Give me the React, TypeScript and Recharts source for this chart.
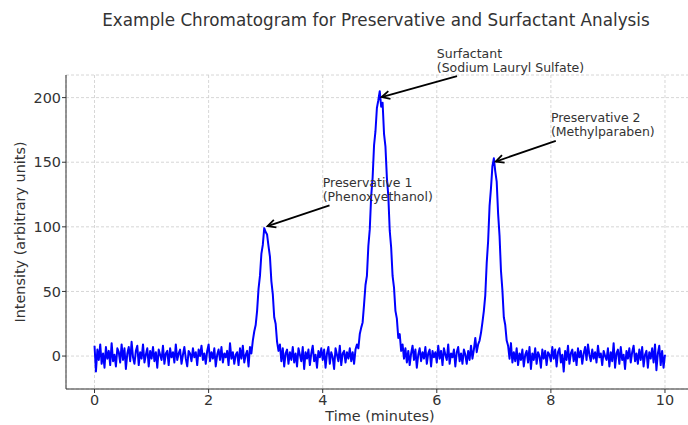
import { LineChart, Line, XAxis, YAxis, CartesianGrid, ReferenceLine, Label } from 'recharts'

// detector signal, one reading every 0.025 min from 0 to 10 min
const TIME_STEP = 0.025
const intensity = [
  8, -12, 5, -3, 9, -6, 2, -9, 7, -2, 4, -7, 10, -4, 1, -8, 6, 3, -5, 9,
  -3, 6, -10, 2, 7, -4, 11, -1, -6, 4, 8, -7, 3, -2, 9, -5, 1, 6, -8, 4,
  -2, 7, -4, 3, -9, 5, 1, -3, 8, -6, 2, 4, -7, 6, -1, 3, -5, 9, -3, 2,
  5, -6, 1, 7, -2, -8, 4, 2, -4, 6, -1, 3, -7, 5, 0, 8, -3, 2, -6, 4,
  9, -4, 3, -2, 6, -8, 1, 5, -3, 7, -5, 2, -1, 4, -7, 10, -2, 3, -6, 1,
  3, -7, 6, -2, 8, -5, 1, 4, -8, 7, 2, 12, 19, 24, 35, 52, 62, 79, 86, 99,
  96, 94, 85, 77, 58, 48, 30, 25, 11, 4, 9, -4, 6, -8, 2, 5, -6, 3, -3, 7,
  -5, 2, -8, 6, 1, -4, 7, -10, 3, -2, 5, -7, 2, 8, -4, 1, -9, 4, -1, 6,
  -3, 5, -9, 2, 7, -6, 3, -1, -10, 6, 1, -4, 8, -7, 2, 4, -5, 3, -2, 6,
  -4, 3, -6, 5, 9, 6, 17, 22, 26, 40, 55, 62, 85, 98, 124, 138, 163, 174, 192, 198,
  205, 193, 196, 172, 162, 138, 124, 97, 84, 62, 53, 35, 29, 14, 17, 4, 9, -2, 6, -5,
  4, -7, 2, 8, -3, 5, -9, 1, 6, -4, 3, -2, 7, -6, 2, 5, -8, 4, -1, 3,
  -5, 8, -2, 4, -7, 6, 1, -3, 9, -6, 2, -1, 5, -8, 3, 7, -4, 2, -6, 5,
  1, -6, 4, -3, 8, -2, 5, 14, 3, 9, 12, 18, 26, 35, 47, 72, 89, 116, 130, 147,
  153, 143, 135, 110, 93, 66, 51, 30, 24, 12, 8, -2, 10, -5, 3, -4, 6, -7, 2, -3,
  5, -8, 1, 4, -5, 7, -10, 2, -3, 6, -6, 3, 0, -9, 5, -2, 4, -7, 3, 1,
  -4, 7, -2, 5, -8, 3, 6, -5, 1, -12, 4, -3, 8, -6, 2, 5, -4, 3, -7, 6,
  -1, 4, -6, 2, 7, -3, 9, 1, -4, 5, -2, 3, -5, 8, -1, 2, -7, 4, 0, -3,
  6, -8, 3, -4, 10, -9, 2, 5, -6, 7, -3, 1, -10, 4, -2, 6, -5, 3, 8, -4,
  2, -6, 5, -3, 7, -8, 1, 4, -9, 3, -2, 6, -5, 9, -11, 2, 8, -7, 4, -9,
  1,
]

const xTicks = [0, 2, 4, 6, 8, 10]
const yTicks = [0, 50, 100, 150, 200]

// peak annotations: where the arrow points, and where the text sits
const peakLabels = [
  ['Preservative 1', '(Phenoxyethanol)'],
  ['Surfactant', '(Sodium Lauryl Sulfate)'],
  ['Preservative 2', '(Methylparaben)'],
]
const peakTimes = [3, 5, 7]
const peakHeights = [100, 200, 150]
const labelTimes = [4, 6, 8]
const labelHeights = [120, 220, 170]

const data = intensity.map((v, i) => ({ time: i * TIME_STEP, intensity: v }))

const FONT = '"DejaVu Sans", sans-serif'
const TEXT = '#333333'
const ANNOT_SIZE = 12.5
const LINE_GAP = 14

// text block + arrow, like matplotlib annotate (text baseline of last line at x1,y1)
const AnnotationShape = (props: any) => {
  const { x1, y1, x2, y2, lines } = props
  if (x1 == null || y2 == null) return null
  const maxLen = Math.max(...lines.map((l: string) => l.length))
  const w = maxLen * ANNOT_SIZE * 0.5
  const top = y1 - (lines.length - 1) * LINE_GAP - ANNOT_SIZE * 0.8
  const bottom = y1 + ANNOT_SIZE * 0.3
  const cx = x1 + w / 2
  const cy = (top + bottom) / 2
  const dx = x2 - cx
  const dy = y2 - cy
  const len = Math.hypot(dx, dy)
  const ux = dx / len
  const uy = dy / len
  const t = Math.min(Math.abs(w / 2 / dx), Math.abs((bottom - top) / 2 / dy))
  const sx = cx + dx * t + ux * 2
  const sy = cy + dy * t + uy * 2
  const ex = x2 - ux * 2
  const ey = y2 - uy * 2
  const hl = 8
  const hw = 4
  const bx = ex - ux * hl
  const by = ey - uy * hl
  return (
    <g>
      <text x={x1} y={y1} fill={TEXT} fontSize={ANNOT_SIZE} fontFamily={FONT}>
        {lines.map((l: string, i: number) => (
          <tspan key={i} x={x1} y={y1 - (lines.length - 1 - i) * LINE_GAP}>
            {l}
          </tspan>
        ))}
      </text>
      <line x1={sx} y1={sy} x2={ex} y2={ey} stroke="#000" strokeWidth={1.8} />
      <polyline
        points={`${bx - uy * hw},${by + ux * hw} ${ex},${ey} ${bx + uy * hw},${by - ux * hw}`}
        fill="none"
        stroke="#000"
        strokeWidth={1.8}
      />
    </g>
  )
}

export default function App() {
  return (
    <div
      style={{
        position: 'fixed',
        top: 0,
        left: 0,
        width: 688,
        height: 425,
        overflow: 'hidden',
        background: '#fff',
        fontFamily: FONT,
      }}
    >
      <div
        style={{
          position: 'absolute',
          top: 9,
          left: 0,
          width: 752,
          textAlign: 'center',
          fontSize: 16.8,
          color: TEXT,
          lineHeight: '22px',
          whiteSpace: 'nowrap',
        }}
      >
        Example Chromatogram for Preservative and Surfactant Analysis
      </div>
      <LineChart
        width={700}
        height={425}
        data={data}
        margin={{ top: 75, right: 6.5, left: 0, bottom: 0 }}
        style={{ position: 'absolute', top: 0, left: 0 }}
      >
        <CartesianGrid stroke="#cccccc" strokeDasharray="3 2" strokeWidth={0.8} />
        <XAxis
          dataKey="time"
          type="number"
          domain={[-0.5, 10.5]}
          ticks={xTicks}
          allowDataOverflow
          height={36}
          tickSize={4}
          tickMargin={2}
          stroke="#333"
          tick={{ fill: TEXT, fontSize: 14.4, fontFamily: FONT }}
        >
          <Label
            content={() => (
              <text x={380} y={421} textAnchor="middle" fill={TEXT} fontSize={14.4} fontFamily={FONT}>
                Time (minutes)
              </text>
            )}
          />
        </XAxis>
        <YAxis
          type="number"
          domain={[-25.5, 217.5]}
          ticks={yTicks}
          allowDataOverflow
          width={66}
          tickSize={4}
          tickMargin={1}
          stroke="#333"
          tick={{ fill: TEXT, fontSize: 14.4, fontFamily: FONT }}
        >
          <Label
            content={() => (
              <text
                x={25}
                y={232}
                transform="rotate(-90 25 232)"
                textAnchor="middle"
                fill={TEXT}
                fontSize={14.4}
                fontFamily={FONT}
              >
                Intensity (arbitrary units)
              </text>
            )}
          />
        </YAxis>
        <Line
          dataKey="intensity"
          stroke="#0000ff"
          strokeWidth={2}
          dot={false}
          activeDot={false}
          isAnimationActive={false}
          strokeLinejoin="round"
        />
        {peakLabels.map((lines, i) => (
          <ReferenceLine
            key={i}
            ifOverflow="visible"
            segment={[
              { x: labelTimes[i], y: labelHeights[i] },
              { x: peakTimes[i], y: peakHeights[i] },
            ]}
            shape={(p: any) => <AnnotationShape {...p} lines={lines} />}
          />
        ))}
      </LineChart>
    </div>
  )
}
